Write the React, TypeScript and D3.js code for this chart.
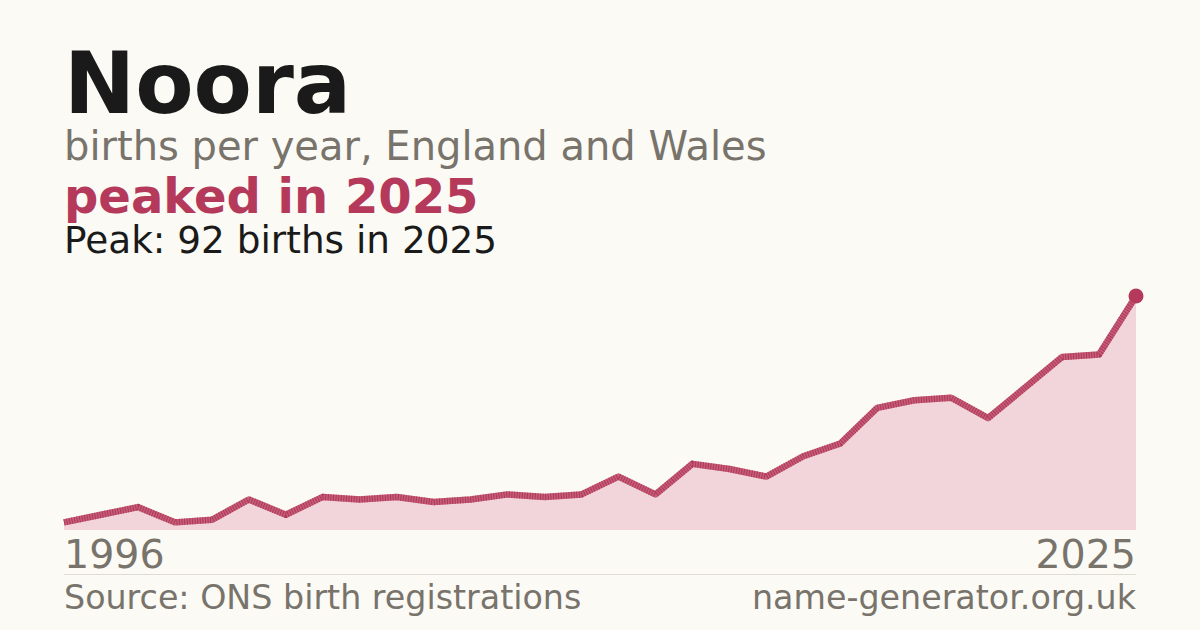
import { useEffect, useRef } from 'react';
import * as d3 from 'd3';

const years = [
  1996, 1997, 1998, 1999, 2000, 2001, 2002, 2003, 2004, 2005, 2006, 2007, 2008, 2009, 2010,
  2011, 2012, 2013, 2014, 2015, 2016, 2017, 2018, 2019, 2020, 2021, 2022, 2023, 2024, 2025,
];
const births = [
  3, 6, 9, 3, 4, 12, 6, 13, 12, 13, 11, 12, 14, 13, 14,
  21, 14, 26, 24, 21, 29, 34, 48, 51, 52, 44, 56, 68, 69, 92,
];
const name = 'Noora';
const subtitle = 'births per year, England and Wales';
const headline = 'peaked in 2025';
const peakNote = 'Peak: 92 births in 2025';
const sourceText = 'Source: ONS birth registrations';
const siteText = 'name-generator.org.uk';

interface Point {
  year: number;
  value: number;
}

function App() {
  const svgRef = useRef<SVGSVGElement | null>(null);
  const width = 1200;
  const height = 630;
  const margin = { left: 64, right: 64, top: 296, bottom: 100 };

  useEffect(() => {
    const data: Point[] = years.map((y, i) => ({ year: y, value: births[i] }));
    const svg = d3.select(svgRef.current);
    svg.selectAll('*').remove();

    const xScale = d3
      .scaleLinear()
      .domain(d3.extent(years) as [number, number])
      .range([margin.left, width - margin.right]);

    const yScale = d3
      .scaleLinear()
      .domain([0, d3.max(births) as number])
      .range([height - margin.bottom, margin.top]);

    svg.append('rect').attr('width', width).attr('height', height).attr('fill', '#fbfaf5');

    const font = "'DejaVu Sans', sans-serif";

    svg.append('text').attr('x', 64).attr('y', 113).attr('font-family', font)
      .attr('font-weight', 'bold').attr('font-size', 85).attr('fill', '#1a1a1a').text(name);
    svg.append('text').attr('x', 64).attr('y', 160).attr('font-family', font)
      .attr('font-size', 40).attr('fill', '#78736b').text(subtitle);
    svg.append('text').attr('x', 64).attr('y', 213).attr('font-family', font)
      .attr('font-weight', 'bold').attr('font-size', 48).attr('fill', '#b5395a').text(headline);
    svg.append('text').attr('x', 64).attr('y', 253).attr('font-family', font)
      .attr('font-size', 37.4).attr('fill', '#1a1a1a').text(peakNote);

    const area = d3
      .area<Point>()
      .x((d) => xScale(d.year))
      .y0(yScale(0))
      .y1((d) => yScale(d.value));

    const line = d3
      .line<Point>()
      .x((d) => xScale(d.year))
      .y((d) => yScale(d.value));

    svg.append('path').attr('d', area(data)).attr('fill', '#f2d5db');

    svg.append('path').attr('d', line(data)).attr('fill', 'none')
      .attr('stroke', '#c65d78').attr('stroke-width', 6.5).attr('stroke-linejoin', 'round');
    svg.append('path').attr('d', line(data)).attr('fill', 'none')
      .attr('stroke', '#a82f50').attr('stroke-width', 6.5).attr('stroke-dasharray', '1 1.6')
      .attr('stroke-linejoin', 'round').attr('opacity', 0.8);

    const last = data[data.length - 1];
    svg.append('circle').attr('cx', xScale(last.year)).attr('cy', yScale(last.value))
      .attr('r', 7.5).attr('fill', '#b5395a');

    const axisY = height - margin.bottom;
    svg.append('text').attr('x', xScale(years[0])).attr('y', axisY + 38).attr('font-family', font)
      .attr('font-size', 39.5).attr('fill', '#78736b').text(String(years[0]));
    svg.append('text').attr('x', xScale(years[years.length - 1])).attr('y', axisY + 38)
      .attr('text-anchor', 'end').attr('font-family', font)
      .attr('font-size', 39.5).attr('fill', '#78736b').text(String(years[years.length - 1]));

    svg.append('line').attr('x1', 64).attr('x2', width - 64).attr('y1', 574.5).attr('y2', 574.5)
      .attr('stroke', '#dedbd3').attr('stroke-width', 1);

    svg.append('text').attr('x', 64).attr('y', 609).attr('font-family', font)
      .attr('font-size', 33.3).attr('fill', '#78736b').text(sourceText);
    svg.append('text').attr('x', width - 64).attr('y', 609).attr('text-anchor', 'end')
      .attr('font-family', font).attr('font-size', 33.3).attr('fill', '#78736b').text(siteText);
  }, []);

  return (
    <div style={{ position: 'fixed', left: 0, top: 0, width, height }}>
      <svg ref={svgRef} width={width} height={height} style={{ display: 'block' }} />
    </div>
  );
}

export default App;
